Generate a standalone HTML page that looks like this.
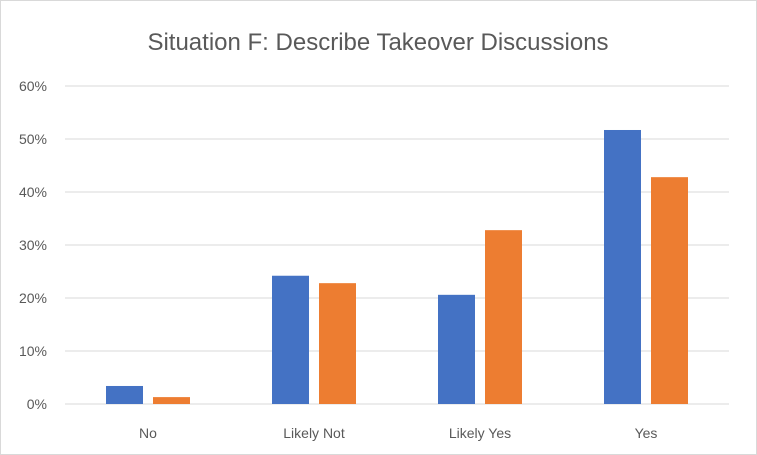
<!DOCTYPE html>
<html><head><meta charset="utf-8"><style>
body{margin:0;background:#fff;}
svg{display:block;font-family:"Liberation Sans",sans-serif;}
</style></head><body>
<svg id="chart" width="757" height="455">
<rect x="0.5" y="0.5" width="756" height="454" fill="#fff" stroke="#d9d9d9"/>
<text x="378" y="50" text-anchor="middle" font-size="24" fill="#595959">Situation F: Describe Takeover Discussions</text>
<g id="grid"></g><g id="bars"></g><g id="labels"></g>
</svg>
<script>
const categories=["No","Likely Not","Likely Yes","Yes"];
const seriesA=[3.4,24.2,20.6,51.7];
const seriesB=[1.3,22.8,32.8,42.8];
const ticks=[0,10,20,30,40,50,60];
const tickLabels=["0%","10%","20%","30%","40%","50%","60%"];
const ns="http://www.w3.org/2000/svg";
const x0=65,x1=729,y0=404,yTop=86,maxV=60;
const y=v=>y0-(v/maxV)*(y0-yTop);
const band=(x1-x0)/categories.length;
const cx=i=>x0+band*(i+0.5);
function mk(t,a,p){const e=document.createElementNS(ns,t);for(const k in a)e.setAttribute(k,a[k]);p.appendChild(e);return e;}
const G=document.getElementById("grid"),B=document.getElementById("bars"),L=document.getElementById("labels");
ticks.forEach((t,i)=>{
 const l=mk("line",{x1:x0,x2:x1,y1:y(t),y2:y(t),stroke:"#d9d9d9","stroke-width":1},G);
 
 
 const tx=mk("text",{x:47,y:y(t)+5,"text-anchor":"end","font-size":14,fill:"#595959"},L);
 tx.textContent=tickLabels[i];
 
 
});
const bw=37,gap=10;
categories.forEach((c,i)=>{
 const a=mk("rect",{x:cx(i)-gap/2-bw,y:y(seriesA[i]),width:bw,height:y0-y(seriesA[i]),fill:"#4472c4"},B);
 
 
 const b=mk("rect",{x:cx(i)+gap/2,y:y(seriesB[i]),width:bw,height:y0-y(seriesB[i]),fill:"#ed7d31"},B);
 
 
 const tx=mk("text",{x:cx(i),y:438,"text-anchor":"middle","font-size":14,fill:"#595959"},L);
 tx.textContent=c;
 
 
});
</script>
</body></html>
